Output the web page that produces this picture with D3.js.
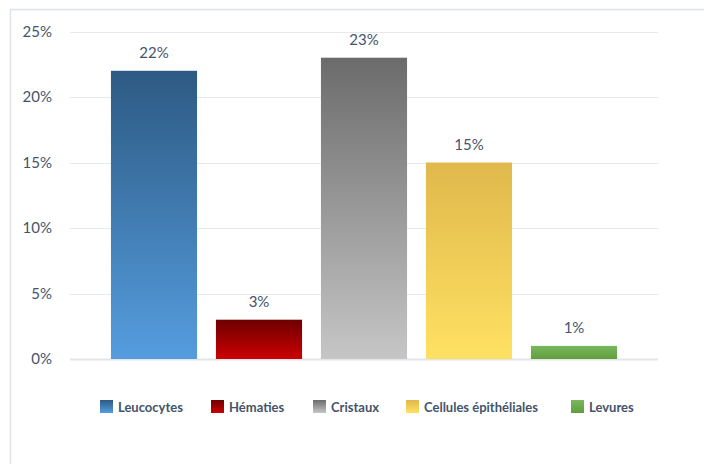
<!DOCTYPE html>
<html>
<head>
<meta charset="utf-8">
<script src="https://cdn.jsdelivr.net/npm/d3@7"></script>
<style>
  html, body { margin: 0; padding: 0; background: #fff; }
  svg { display: block; }
  text { font-family: Lato, "Open Sans", sans-serif; }
</style>
</head>
<body>
<svg id="chart" width="704" height="464"></svg>
<script>
// Proportion of each urine sediment element
const categories = ["Leucocytes", "Hématies", "Cristaux", "Cellules épithéliales", "Levures"];
const values = [22, 3, 23, 15, 1];
const yTicks = [0, 5, 10, 15, 20, 25];
const gradients = [
  ["#2d5a83", "#559ddf"],
  ["#6e0000", "#cc0000"],
  ["#6b6b6b", "#c6c6c6"],
  ["#e0b84c", "#ffe162"],
  ["#7ab85e", "#5f9d3c"]
];

const svg = d3.select("#chart");
const textColor = "#44546a";

// chart frame
svg.append("path")
  .attr("d", "M10.5,464 L10.5,9.5 L704,9.5")
  .attr("fill", "none")
  .attr("stroke", "#dfe3ea")
  .attr("stroke-width", 1.5);

const y = d3.scaleLinear().domain([0, 25]).range([359, 31.5]);
const x = d3.scaleBand().domain(categories).range([101.5, 626.5]).paddingInner(0.18).paddingOuter(0.09);

const defs = svg.append("defs");
categories.forEach((c, i) => {
  const g = defs.append("linearGradient")
    .attr("id", "grad" + i)
    .attr("x1", 0).attr("y1", 0).attr("x2", 0).attr("y2", 1);
  g.append("stop").attr("offset", "0%").attr("stop-color", gradients[i][0]);
  g.append("stop").attr("offset", "100%").attr("stop-color", gradients[i][1]);
});

// gridlines
svg.append("g").selectAll("line")
  .data(yTicks)
  .join("line")
  .attr("x1", 70).attr("x2", 658)
  .attr("y1", d => Math.round(y(d)) + 0.5)
  .attr("y2", d => Math.round(y(d)) + 0.5)
  .attr("stroke", d => d === 0 ? "#e2e5ea" : "#e6e9ee")
  .attr("stroke-width", d => d === 0 ? 2 : 1.2);

// y tick labels
svg.append("g").selectAll("text")
  .data(yTicks)
  .join("text")
  .attr("x", 52)
  .attr("y", d => y(d) + 5)
  .attr("text-anchor", "end")
  .attr("font-size", 15)
  .attr("fill", textColor)
  .text(d => d + "%");

// bars
svg.append("g").selectAll("rect")
  .data(values)
  .join("rect")
  .attr("x", (d, i) => x(categories[i]))
  .attr("width", x.bandwidth())
  .attr("y", d => y(d))
  .attr("height", d => y(0) - y(d))
  .attr("fill", (d, i) => `url(#grad${i})`);

// value labels
svg.append("g").selectAll("text")
  .data(values)
  .join("text")
  .attr("x", (d, i) => x(categories[i]) + x.bandwidth() / 2)
  .attr("y", d => y(d) - 13)
  .attr("text-anchor", "middle")
  .attr("font-size", 15)
  .attr("fill", textColor)
  .text(d => d + "%");

// legend
const legendX = [100, 211, 313, 406, 571];
const legend = svg.append("g").selectAll("g")
  .data(categories)
  .join("g")
  .attr("transform", (d, i) => `translate(${legendX[i]},400)`);
legend.append("rect")
  .attr("width", 13).attr("height", 13)
  .attr("fill", (d, i) => `url(#grad${i})`);
legend.append("text")
  .attr("x", 18).attr("y", 11.5)
  .attr("font-size", 13)
  .attr("font-weight", "bold")
  .attr("fill", textColor)
  .text(d => d);
</script>
</body>
</html>
